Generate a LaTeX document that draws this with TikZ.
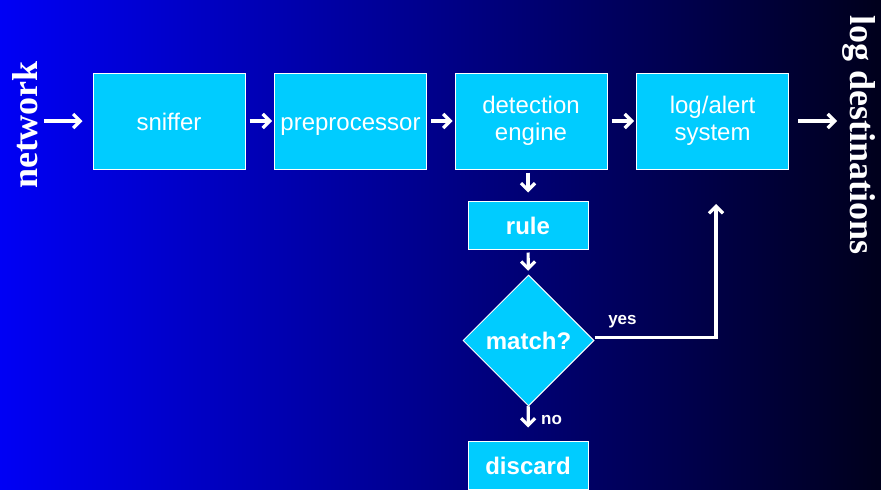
\documentclass[tikz,border=0pt]{standalone}
\usepackage{fontspec}
\setmainfont{Liberation Serif}
\setsansfont{Liberation Sans}
\usepackage{tikz}
\usetikzlibrary{positioning,shapes.geometric,arrows.meta}
\definecolor{boxcyan}{RGB}{0,204,255}
\definecolor{bgleft}{RGB}{0,0,245}
\definecolor{bgmid}{RGB}{0,0,200}
\definecolor{bgright}{RGB}{0,0,28}
\newcommand{\boxstrut}{\rule[-5pt]{0pt}{28pt}}
\tikzset{
	stage/.style={draw=white, line width=1pt, fill=boxcyan, text=white, align=center,
		minimum width=152pt, minimum height=96pt, inner sep=2pt,
		execute at begin node=\boxstrut, execute at end node=\boxstrut,
		font=\sffamily\fontsize{24}{27.6}\selectfont},
	stepbox/.style={stage, minimum width=120pt, minimum height=48pt, font=\sffamily\bfseries\fontsize{24}{27.6}\selectfont},
	test/.style={diamond, draw=white, line width=1pt, fill=boxcyan, text=white, aspect=1,
		minimum size=131pt, inner sep=0pt, font=\sffamily\bfseries\fontsize{24}{27.6}\selectfont},
	flow/.style={draw=white, line width=3.2pt, -{Straight Barb[length=7pt, width=14pt]}},
	gap/.style={shorten <=4pt, shorten >=2pt},
	side/.style={text=white, inner sep=0pt, font=\rmfamily\bfseries\fontsize{36}{40}\selectfont},
	tag/.style={text=white, font=\sffamily\bfseries\fontsize{17}{20}\selectfont}
}
\begin{document}
\begin{tikzpicture}[x=1pt, y=-1pt]
	\shade[left color=bgleft, middle color=bgmid, right color=bgright] (0,0) rectangle (881,490);
	\useasboundingbox (0,0) rectangle (881,490);
	\node[side, rotate=90] (network) at (25.5,125) {network};
	\node[side, rotate=-90] (logdest) at (859,135) {log destinations};
	\node[stage] (sniffer) at (169,121) {sniffer};
	\node[stage, right=28.5pt of sniffer] (preproc) {preprocessor};
	\node[stage, right=27.5pt of preproc] (detect) {detection\\engine};
	\node[stage, right=28.5pt of detect] (logalert) {log/alert\\system};
	\node[stepbox] (rule) at (528,225) {rule};
	\node[test] (match) at (528.5,340.5) {match?};
	\node[stepbox] (discard) at (528,465) {discard};
	\coordinate (netin) at (44,121);
	\coordinate (logout) at (837,121);
	\coordinate (yesend) at (716,204);
	\draw[flow, shorten >=10pt] (netin) -- (sniffer);
	\draw[flow, gap] (sniffer) -- (preproc);
	\draw[flow, gap] (preproc) -- (detect);
	\draw[flow, gap] (detect) -- (logalert);
	\draw[flow, shorten <=9pt] (logalert) -- (logout);
	\draw[flow, shorten <=3pt, shorten >=8pt] (rule |- detect.south) -- (rule);
	\draw[flow, shorten <=3pt, shorten >=4pt] (rule) -- (match);
	\draw[flow, shorten >=13pt] (match) -- node[tag, right=8pt, pos=0.4] (no) {no} (discard);
	\draw[flow] ([yshift=3pt]match.east) -- node[tag, above=5pt, pos=0.23] (yes) {yes} ([yshift=3pt]match.east -| yesend) -- (yesend);
\end{tikzpicture}
\end{document}
